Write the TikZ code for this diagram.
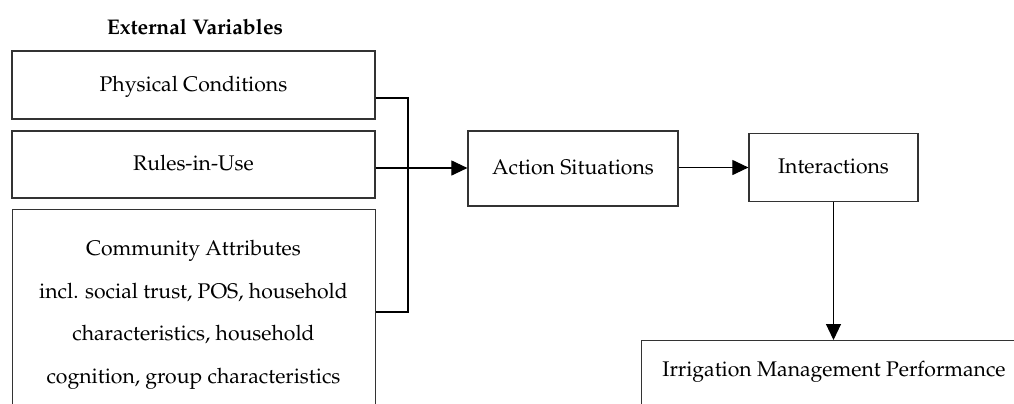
\documentclass[tikz,border=0pt]{standalone}
\usepackage[T1]{fontenc}
\usepackage{mathpazo}
\usepackage{tikz}
\usetikzlibrary{positioning,arrows.meta,calc}

\begin{document}
\begin{tikzpicture}[
  x=0.5pt, y=-0.5pt,
  >={Triangle[length=8pt,width=7.5pt]},
  box/.style={draw=black!80, line width=0.6pt, inner sep=0pt,
    text height=0.75em, text depth=0.15em},
  link/.style={draw=black, line width=0.55pt},
  every node/.style={font=\fontsize{10.6}{21.3}\selectfont}
]
  \clip (0,0) rectangle (1014,403);

  % External variables
  \node[font=\fontsize{10.6}{21.3}\selectfont\bfseries] (extvar) at (195,27) {External Variables};
  \node[box, minimum width=181.5pt, minimum height=34pt] (phys) at (193.5,85) {Physical Conditions};
  \node[box, minimum width=181.5pt, minimum height=33.5pt] (rules) at (193.5,164.5) {Rules-in-Use};
  \node[box, minimum width=181.5pt, minimum height=120pt, anchor=north west, text height=, text depth=] (comm) at (12,209) {};
  \node[align=center] (commtext) at (193.5,315)
    {Community Attributes\\incl. social trust, POS, household\\characteristics, household\\cognition, group characteristics};

  % Action arena and outcome
  \node[box, minimum width=105pt, minimum height=37.5pt] (act) at (573,168.5) {Action Situations};
  \node[box, minimum width=84.5pt, minimum height=34pt] (inter) at (833.5,167.5) {Interactions};
  \node[box, minimum width=200pt, minimum height=50pt, anchor=north west, text height=, text depth=] (irr) at (641,340) {};
  \node[anchor=base] (irrtext) at (834,376) {Irrigation Management Performance};

  % Bracket
  \coordinate (btop) at (408,98);
  \coordinate (bbot) at (408,312);
  \coordinate (bjoin) at (408,168);
  \draw[link] ($(phys.east)+(0,13)$) -- (btop) -- (bbot) -- (comm.north east |- bbot);
  \draw[link] (rules.east |- bjoin) -- (bjoin);

  % Arrows
  \draw[link,->] (bjoin) -- (act.west |- bjoin);
  \draw[link,->] (act.east |- inter.west) -- (inter.west);
  \draw[link,->] (inter.south) -- (inter.south |- irr.north);
\end{tikzpicture}
\end{document}
